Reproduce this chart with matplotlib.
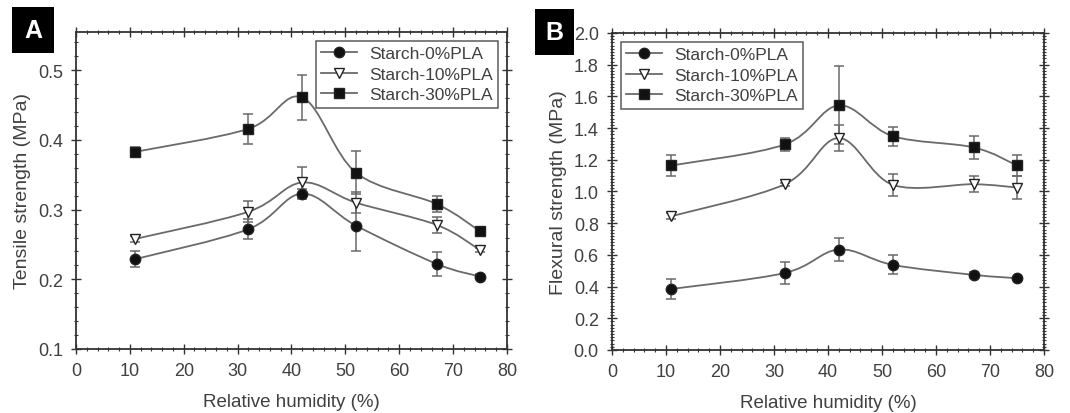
import numpy as np
import matplotlib
matplotlib.use('Agg')
import matplotlib.pyplot as plt
from matplotlib.path import Path
from matplotlib.patches import PathPatch, Rectangle
from matplotlib.lines import Line2D
from matplotlib.ticker import MultipleLocator, AutoMinorLocator

plt.rcParams['font.family'] = ['Liberation Sans', 'DejaVu Sans']

# Data
rh = [11, 32, 42, 52, 67, 75]
series_names = ['Starch-0%PLA', 'Starch-10%PLA', 'Starch-30%PLA']

tensile_0 = [0.229, 0.272, 0.323, 0.277, 0.222, 0.204]
tensile_0_err = [0.011, 0.014, 0.007, 0.037, 0.017, 0.003]
tensile_10 = [0.258, 0.297, 0.339, 0.310, 0.278, 0.242]
tensile_10_err = [0.004, 0.015, 0.022, 0.015, 0.011, 0.003]
tensile_30 = [0.383, 0.416, 0.461, 0.353, 0.308, 0.269]
tensile_30_err = [0.007, 0.022, 0.032, 0.031, 0.012, 0.003]

flex_0 = [0.385, 0.486, 0.634, 0.537, 0.474, 0.453]
flex_0_err = [0.065, 0.068, 0.070, 0.060, 0.020, 0.010]
flex_10 = [0.844, 1.046, 1.337, 1.042, 1.046, 1.025]
flex_10_err = [0.020, 0.010, 0.080, 0.070, 0.050, 0.070]
flex_30 = [1.164, 1.297, 1.543, 1.349, 1.278, 1.164]
flex_30_err = [0.068, 0.040, 0.246, 0.060, 0.070, 0.068]

markers = ['o', 'v', 's']
mfaces = ['#111111', 'white', '#111111']
line_col = '#6a6a6a'
text_col = '#404040'


def smooth_path(x, y):
    # cubic bezier through the points (catmull-rom style handles)
    pts = np.column_stack([x, y]).astype(float)
    verts = [pts[0]]
    codes = [Path.MOVETO]
    n = len(pts)
    for i in range(n - 1):
        p0 = pts[max(i - 1, 0)]
        p1 = pts[i]
        p2 = pts[i + 1]
        p3 = pts[min(i + 2, n - 1)]
        c1 = p1 + (p2 - p0) / 6.0
        c2 = p2 - (p3 - p1) / 6.0
        verts += [c1, c2, p2]
        codes += [Path.CURVE4] * 3
    return Path(verts, codes)


def draw_panel(ax, ys, errs, ylim, ymajor, yminor, ylabel, legend_loc):
    for y, e, m, fc in zip(ys, errs, markers, mfaces):
        ax.add_patch(PathPatch(smooth_path(rh, y), facecolor='none',
                               edgecolor=line_col, lw=1.3, zorder=2))
        ax.errorbar(rh, y, yerr=e, fmt='none', ecolor=line_col, elinewidth=1.1,
                    capsize=3.5, capthick=1.1, zorder=3)
        ax.plot(rh, y, linestyle='none', marker=m, ms=7.5 if m != 'v' else 6.5,
                mfc=fc, mec='#222222', mew=1.0, zorder=4)
    ax.set_xlim(0, 80)
    ax.set_ylim(*ylim)
    ax.xaxis.set_major_locator(MultipleLocator(10))
    ax.xaxis.set_minor_locator(AutoMinorLocator(5))
    ax.yaxis.set_major_locator(MultipleLocator(ymajor))
    ax.yaxis.set_minor_locator(AutoMinorLocator(yminor))
    ax.yaxis.set_major_formatter('{x:.1f}')
    ax.tick_params(which='both', direction='inout', top=True, right=True,
                   colors='#333333', labelcolor=text_col, labelsize=13)
    ax.tick_params(which='major', length=7, width=1.0, pad=6)
    ax.tick_params(which='minor', length=3.5, width=0.8)
    for s in ax.spines.values():
        s.set_color('#333333')
        s.set_linewidth(1.3)
    ax.set_xlabel('Relative humidity (%)', fontsize=13.5, color=text_col, labelpad=10)
    ax.set_ylabel(ylabel, fontsize=14, color=text_col, labelpad=5)
    handles = [Line2D([], [], color=line_col, lw=1.3, marker=m, mfc=fc,
                      mec='#222222', ms=7.5 if m != 'v' else 6.5)
               for m, fc in zip(markers, mfaces)]
    leg = ax.legend(handles, series_names, loc=legend_loc, fontsize=12.5,
                    frameon=True, fancybox=False, handlelength=2.1,
                    borderaxespad=0.5, labelspacing=0.32, handletextpad=0.7,
                    borderpad=0.3)
    leg.get_frame().set_edgecolor('#333333')
    leg.get_frame().set_linewidth(1.1)
    for t in leg.get_texts():
        t.set_color(text_col)


fig = plt.figure(figsize=(10.7, 4.14), dpi=100)
axA = fig.add_axes([0.071, 0.1546, 0.4028, 0.7657])
axB = fig.add_axes([0.572, 0.1522, 0.4037, 0.7657])

draw_panel(axA, [tensile_0, tensile_10, tensile_30],
           [tensile_0_err, tensile_10_err, tensile_30_err],
           (0.1, 0.555), 0.1, 5, 'Tensile strength (MPa)', 'upper right')
draw_panel(axB, [flex_0, flex_10, flex_30],
           [flex_0_err, flex_10_err, flex_30_err],
           (0.0, 2.0), 0.2, 10, 'Flexural strength (MPa)', 'upper left')

# panel letters
for label, x0, y0, w, h in [('A', 12, 8, 42, 46), ('B', 535, 10, 39, 46)]:
    fig.add_artist(Rectangle((x0 / 1070, 1 - (y0 + h) / 414), w / 1070, h / 414,
                             transform=fig.transFigure, facecolor='black',
                             edgecolor='none'))
    fig.text((x0 + w / 2) / 1070, 1 - (y0 + h / 2) / 414, label, color='white',
             fontsize=18, fontweight='bold', ha='center', va='center')

fig.savefig('out.png', dpi=100)
